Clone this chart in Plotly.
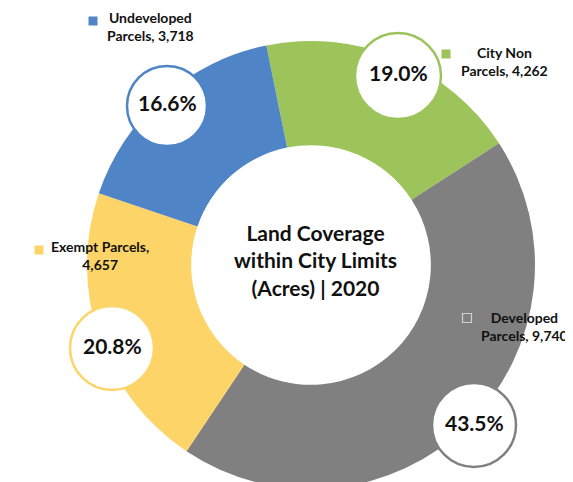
import plotly.graph_objects as go

# ---- data ----
categories = ["City Non Parcels", "Developed Parcels", "Exempt Parcels", "Undeveloped Parcels"]
acres = [4262, 9740, 4657, 3718]
center_title = "Land Coverage<br>within City Limits<br>(Acres) | 2020"

# ---- styling ----
colors = ["#9DC45B", "#808080", "#FDD468", "#4F85C6"]
outline = ["#9DC45B", "#808080", "#FDD468", "#4F85C6"]
W, H = 573, 482
FONT = "Lato"

total = sum(acres)
pcts = [f"{v / total * 100:.1f}%" for v in acres]

def px(x):
    return x / W

def py(y):
    return 1 - y / H

# pie geometry (pixels)
cx, cy, R = 303, 257, 224
fig = go.Figure(go.Pie(
    labels=categories,
    values=acres,
    sort=False,
    direction="clockwise",
    rotation=-11.5,
    hole=0.535,
    marker=dict(colors=colors, line=dict(width=0)),
    textinfo="none",
    hoverinfo="label+value+percent",
    showlegend=False,
    domain=dict(x=[px(cx - R), px(cx + R)], y=[max(0, py(cy + R)), py(cy - R)]),
))

# circle badges (pixel centers, radius) per category in order
badges = [(390, 68, 43), (466, 417, 42), (104, 340, 42), (159, 98, 40)]
shapes = []
annotations = []
for (bx, by, r), col, pct in zip(badges, outline, pcts):
    shapes.append(dict(type="circle", xref="paper", yref="paper",
                       x0=px(bx - r), x1=px(bx + r), y0=py(by + r), y1=py(by - r),
                       fillcolor="white", line=dict(color=col, width=2.5), layer="above"))
    annotations.append(dict(x=px(bx), y=py(by - 3), xref="paper", yref="paper",
                            text=f"<b>{pct}</b>", showarrow=False,
                            font=dict(family=FONT, size=21, color="#111111"),
                            xanchor="center", yanchor="middle"))

# label blocks: (text center x, first-line center y), square center (x, y) pixels
label_pos = [(496, 46, 438, 46), (516, 311, 459, 310), (92, 241, 31, 242), (142, 12, 85, 13)]
for (tx, ty, sx, sy), cat, val, col in zip(label_pos, categories, acres, colors):
    words = cat.rsplit(" ", 1)
    if cat == "Exempt Parcels":
        line1, line2 = "Exempt Parcels,", f"{val:,}"
    elif cat == "City Non Parcels":
        line1, line2 = "City Non", f"Parcels, {val:,}"
    else:
        line1, line2 = words[0], f"{words[1]}, {val:,}"
    annotations.append(dict(x=px(tx), y=py(ty + 7), xref="paper", yref="paper",
                            text=f"<b>{line1}</b><br><b>{line2}</b>", showarrow=False,
                            align="center", xanchor="center", yanchor="middle",
                            font=dict(family=FONT, size=14, color="#111111")))
    is_dev = cat == "Developed Parcels"
    shapes.append(dict(type="rect", xref="paper", yref="paper",
                       x0=px(sx - 4.5), x1=px(sx + 4.5), y0=py(sy + 4.5), y1=py(sy - 4.5),
                       fillcolor="rgba(0,0,0,0)" if is_dev else col,
                       line=dict(color="#D0D0D0" if is_dev else col, width=1.2 if is_dev else 0),
                       layer="above"))

annotations.append(dict(x=px(307), y=py(252), xref="paper", yref="paper",
                        text=f"<b>{center_title}</b>", showarrow=False, align="center",
                        xanchor="center", yanchor="middle",
                        font=dict(family=FONT, size=21, color="#111111")))

fig.update_layout(
    width=W, height=H,
    margin=dict(l=0, r=0, t=0, b=0),
    paper_bgcolor="white", plot_bgcolor="white",
    shapes=shapes, annotations=annotations,
)

fig.write_html("out.html")
